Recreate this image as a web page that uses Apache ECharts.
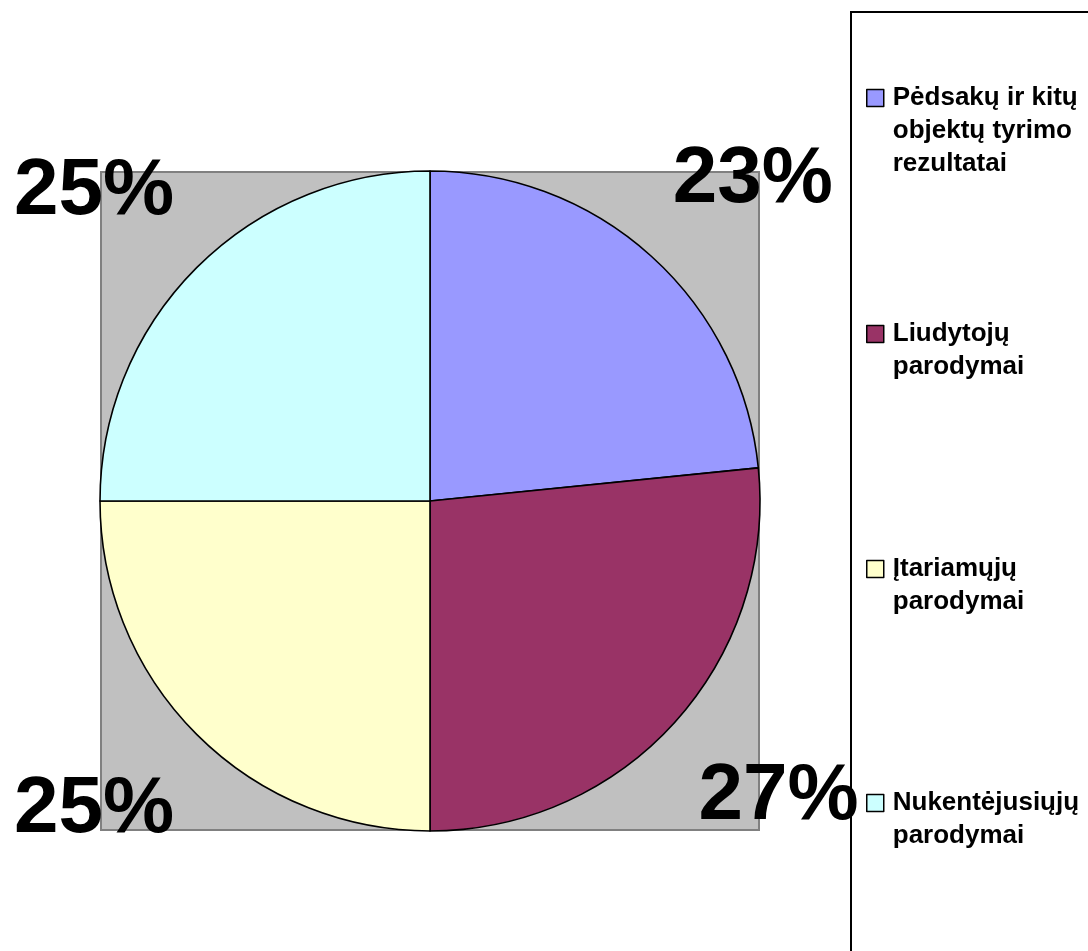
<!DOCTYPE html>
<html>
<head>
<meta charset="utf-8">
<script src="https://cdn.jsdelivr.net/npm/echarts@6/dist/echarts.min.js"></script>
<style>
html,body{margin:0;padding:0;background:#fff;}
#chart{width:1088px;height:951px;}
</style>
</head>
<body>
<div id="chart"></div>
<script>
// Data
const categories = [
  'Pėdsakų ir kitų\nobjektų tyrimo\nrezultatai',
  'Liudytojų\nparodymai',
  'Įtariamųjų\nparodymai',
  'Nukentėjusiųjų\nparodymai'
];
const values = [23.4, 26.6, 25, 25];
const colors = ['#9999FF', '#993366', '#FFFFCC', '#CCFFFF'];

// Layout constants
const CX = 430, CY = 501, R = 330;
const LABEL_R = 362;
const LEGEND_LINE = 33;
const legendIconCenters = [98, 334, 569, 803];
const FONT = "'Liberation Sans', Arial, Helvetica, sans-serif";

const total = values.reduce((a, b) => a + b, 0);
function midAngle(i) {
  let cum = 0;
  for (let k = 0; k < i; k++) cum += values[k];
  return (cum + values[i] / 2) / total * 2 * Math.PI;
}

const chart = echarts.init(document.getElementById('chart'), null, {renderer: 'canvas'});

const legends = categories.map((name, i) => {
  const n = name.split('\n').length;
  return {
    show: true,
    orient: 'vertical',
    left: 866,
    top: legendIconCenters[i] - (2 * n - 1) * LEGEND_LINE / 2,
    padding: 0,
    selectedMode: false,
    itemWidth: 17,
    itemHeight: 17,
    icon: 'rect',
    itemStyle: {borderColor: '#000', borderWidth: 1.5},
    formatter: nm => '\n'.repeat(n - 1) + nm,
    textStyle: {
      fontFamily: FONT,
      fontWeight: 'bold',
      fontSize: 26,
      color: '#000',
      lineHeight: LEGEND_LINE,
      padding: [0, 0, 0, 4]
    },
    data: [name]
  };
});

const option = {
  backgroundColor: '#fff',
  animation: false,
  graphic: [
    {
      type: 'rect', z: 0,
      shape: {x: 101, y: 172, width: 658, height: 658},
      style: {fill: '#C0C0C0', stroke: '#808080', lineWidth: 2}
    },
    {
      type: 'rect', z: 0,
      shape: {x: 851, y: 12, width: 300, height: 1000},
      style: {fill: '#fff', stroke: '#000', lineWidth: 2}
    }
  ],
  legend: legends,
  series: [{
    type: 'pie',
    z: 2,
    center: [CX, CY],
    radius: R,
    startAngle: 90,
    clockwise: true,
    avoidLabelOverlap: false,
    silent: true,
    data: categories.map((c, i) => ({name: c, value: values[i], itemStyle: {color: colors[i]}})),
    itemStyle: {borderColor: '#000', borderWidth: 1.6},
    label: {
      show: true,
      position: 'outside',
      formatter: p => Math.round(p.percent) + '%',
      fontFamily: FONT,
      fontWeight: 'bold',
      fontSize: 80,
      lineHeight: 106,
      color: '#000'
    },
    labelLine: {show: false},
    labelLayout: function (params) {
      const a = midAngle(params.dataIndex);
      const dx = Math.sin(a), dy = -Math.cos(a);
      return {
        x: CX + dx * LABEL_R,
        y: CY + dy * LABEL_R,
        align: dx >= 0 ? 'left' : 'right',
        verticalAlign: dy < 0 ? 'bottom' : 'top'
      };
    }
  }]
};
chart.setOption(option);
</script>
</body>
</html>
